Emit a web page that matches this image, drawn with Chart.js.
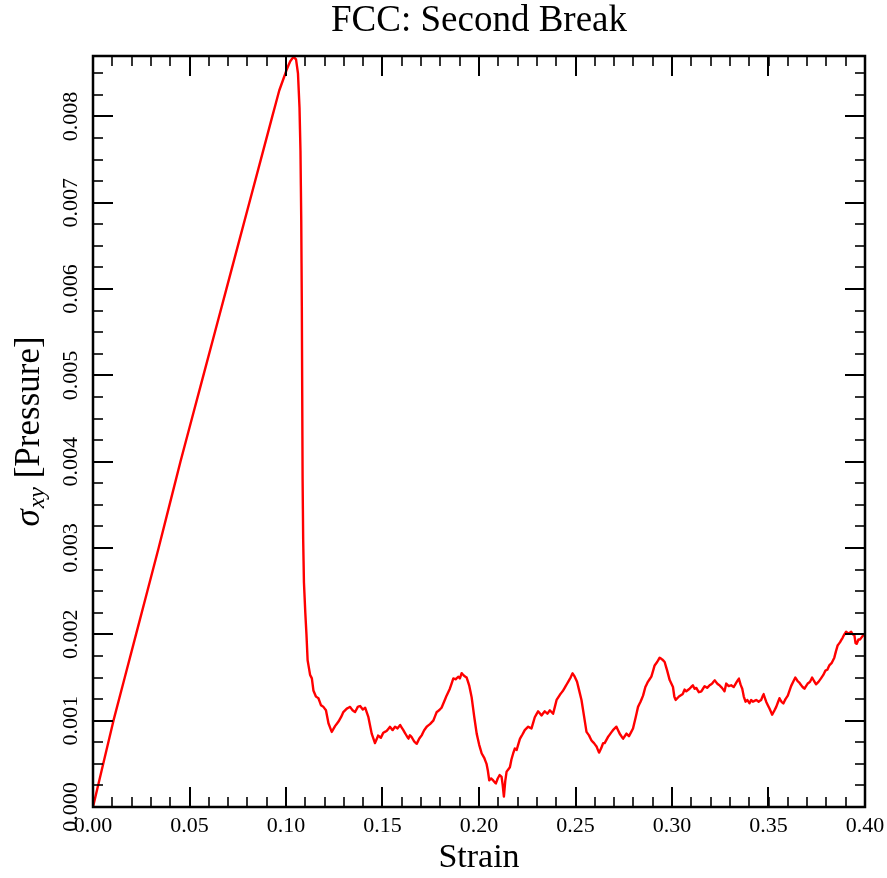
<!DOCTYPE html>
<html>
<head>
<meta charset="utf-8">
<script src="https://cdn.jsdelivr.net/npm/chart.js@4/dist/chart.umd.min.js"></script>
<style>
  html, body { margin: 0; padding: 0; background: #fff; }
  canvas { display: block; }
</style>
</head>
<body>
<canvas id="c" width="887" height="878"></canvas>
<script>
// ---------- data ----------
const strain = [
  0, 0.0106, 0.0223, 0.034, 0.0453, 0.0572, 0.0691, 0.081, 0.0929, 0.0965,
  0.1005, 0.1022, 0.1039, 0.1052, 0.1062, 0.107, 0.1075, 0.1079, 0.1082, 0.1084,
  0.1086, 0.1089, 0.1093, 0.11, 0.1106, 0.1112, 0.1125, 0.1134, 0.1142,
  0.1155, 0.1168, 0.1181,
  0.1194, 0.1207, 0.122, 0.1237, 0.1255, 0.1272, 0.1285, 0.1297, 0.1315, 0.1332,
  0.1345, 0.1358, 0.1372, 0.1384, 0.1398, 0.141, 0.1427, 0.1444, 0.1461, 0.1478,
  0.1491, 0.1504, 0.1521, 0.1539, 0.1552, 0.1565, 0.1578, 0.1591, 0.1608, 0.1621,
  0.1634, 0.1642, 0.1651, 0.1664, 0.1677, 0.169, 0.1703, 0.1716, 0.1729, 0.1746,
  0.1763, 0.1781, 0.1793, 0.1806, 0.1819, 0.1832, 0.1849, 0.1867, 0.188, 0.1892,
  0.1901, 0.191, 0.1923, 0.1936, 0.1949, 0.1962, 0.1975, 0.1988, 0.2001, 0.2014,
  0.2027, 0.2039, 0.2046, 0.2053, 0.2063, 0.2073, 0.2087, 0.2097, 0.2107, 0.2117,
  0.2123, 0.2129, 0.2136, 0.2143, 0.216, 0.2168, 0.2177, 0.2186, 0.2195, 0.2212,
  0.2225, 0.2237, 0.2255, 0.2272, 0.2289, 0.2307, 0.2324, 0.2341, 0.2354, 0.2367,
  0.2384, 0.2402, 0.2419, 0.2436, 0.2449, 0.2462, 0.2475, 0.2484, 0.2496, 0.2508,
  0.2531, 0.2557, 0.257, 0.2583, 0.2596, 0.2609, 0.2622, 0.2633, 0.2643, 0.2651,
  0.2668, 0.2681, 0.2694, 0.2712, 0.2729, 0.2746, 0.2764, 0.2777, 0.2798, 0.2811,
  0.2824, 0.2837, 0.285, 0.2862, 0.2875, 0.2893, 0.291, 0.2923, 0.2936, 0.2949,
  0.2962, 0.2975, 0.2988, 0.3005, 0.3012, 0.3019, 0.3036, 0.3056, 0.3065, 0.3074,
  0.3091, 0.3108, 0.3117, 0.3126, 0.3139, 0.3152, 0.3169, 0.3182, 0.3195, 0.3208,
  0.3221, 0.3234, 0.3246, 0.3259, 0.3272, 0.3281, 0.3294, 0.3307, 0.332, 0.3333,
  0.3346, 0.3355, 0.3364, 0.3372, 0.3381, 0.3391, 0.3401, 0.341, 0.3419, 0.3436,
  0.3449, 0.3462, 0.3474, 0.3488, 0.3505, 0.3519, 0.3531, 0.354, 0.3557, 0.3567,
  0.3577, 0.3588, 0.36, 0.3617, 0.3639, 0.365, 0.366, 0.3673, 0.3686, 0.3703,
  0.3715, 0.3726, 0.3736, 0.3746, 0.3759, 0.3772, 0.3784, 0.3795, 0.3805, 0.3815,
  0.3828, 0.3841, 0.3849, 0.3858, 0.3871, 0.3884, 0.3893, 0.3902, 0.3915, 0.3928,
  0.3937, 0.3945, 0.3951, 0.3957, 0.3966, 0.3974, 0.3991, 0.4
];
const stress = [
  0, 0.001, 0.002, 0.003, 0.004, 0.005, 0.006, 0.007, 0.008, 0.0083,
  0.00855, 0.00864, 0.00869, 0.00866, 0.0085, 0.0081, 0.0076, 0.0068, 0.0058, 0.0048,
  0.0038, 0.0031, 0.0026, 0.00225, 0.002, 0.0017, 0.00153, 0.00149, 0.00135,
  0.00128, 0.00126, 0.00118,
  0.00116, 0.00112, 0.00097, 0.00087, 0.00094, 0.00099, 0.00104, 0.0011, 0.00114, 0.00116,
  0.00112, 0.0011, 0.00116, 0.00117, 0.00113, 0.00115, 0.00104, 0.00085, 0.00074, 0.00083,
  0.0008, 0.00086, 0.00088, 0.00093, 0.00089, 0.00093, 0.00091, 0.00095, 0.00089, 0.00084,
  0.00079, 0.00083, 0.00081, 0.00076, 0.00073, 0.00079, 0.00083, 0.00089, 0.00093, 0.00096,
  0.001, 0.0011, 0.00112, 0.00115, 0.00122, 0.00129, 0.00137, 0.00149, 0.00148, 0.00151,
  0.00149, 0.00155, 0.00152, 0.0015, 0.00141, 0.00127, 0.00105, 0.00085, 0.00072, 0.00062,
  0.00057, 0.0005, 0.00042, 0.00031, 0.00033, 0.00031, 0.00027, 0.00033, 0.00037, 0.00035,
  0.00025, 0.00012, 0.0003, 0.00041, 0.00046, 0.00055, 0.00062, 0.00068, 0.00066, 0.00079,
  0.00084, 0.00089, 0.00093, 0.00091, 0.00104, 0.00111, 0.00106, 0.00111, 0.00108, 0.00112,
  0.00108, 0.00124, 0.0013, 0.00135, 0.0014, 0.00145, 0.0015, 0.00155, 0.00151, 0.00145,
  0.00124, 0.00087, 0.00083, 0.00077, 0.00074, 0.0007, 0.00063, 0.00068, 0.00074, 0.00074,
  0.00081, 0.00085, 0.00089, 0.00093, 0.00085, 0.00079, 0.00085, 0.00082, 0.00091, 0.00103,
  0.00116, 0.00122, 0.00129, 0.00139, 0.00145, 0.00151, 0.00164, 0.00168, 0.00173, 0.00171,
  0.00168, 0.00158, 0.00147, 0.00139, 0.00128, 0.00124, 0.00128, 0.00131, 0.00136, 0.00134,
  0.00137, 0.00141, 0.00137, 0.00138, 0.00133, 0.00134, 0.0014, 0.00138, 0.00141, 0.00143,
  0.00147, 0.00143, 0.00141, 0.00138, 0.00134, 0.00143, 0.0014, 0.00141, 0.00139, 0.00144,
  0.00149, 0.00142, 0.00137, 0.00128, 0.00122, 0.00124, 0.0012, 0.00124, 0.00122, 0.00124,
  0.00122, 0.00124, 0.00131, 0.00122, 0.00114, 0.00107, 0.00112, 0.00116, 0.00126, 0.00122,
  0.0012, 0.00125, 0.00129, 0.0014, 0.0015, 0.00146, 0.00144, 0.0014, 0.00137, 0.00143,
  0.00145, 0.0015, 0.00146, 0.00142, 0.00145, 0.00149, 0.00153, 0.00158, 0.00159, 0.00164,
  0.00167, 0.00173, 0.0018, 0.00187, 0.00191, 0.00196, 0.002, 0.00203, 0.00201, 0.00203,
  0.002, 0.00199, 0.0019, 0.00189, 0.00194, 0.00194, 0.00199, 0.002
];
const xTicks = [0, 0.05, 0.10, 0.15, 0.20, 0.25, 0.30, 0.35, 0.40];
const xTickLabels = ['0.00', '0.05', '0.10', '0.15', '0.20', '0.25', '0.30', '0.35', '0.40'];
const yTicks = [0, 0.001, 0.002, 0.003, 0.004, 0.005, 0.006, 0.007, 0.008];
const yTickLabels = ['0.000', '0.001', '0.002', '0.003', '0.004', '0.005', '0.006', '0.007', '0.008'];
const xRange = [0, 0.4];
const yRange = [0, 0.0087];
const xMinorStep = 0.01;
const yMinorStep = 0.00025;

const SERIF = "'Liberation Serif', 'Times New Roman', serif";
Chart.defaults.color = '#000';

// ---------- decoration plugin: frame, inward ticks, y labels, y title ----------
const decor = {
  id: 'decor',
  afterDraw(chart) {
    const { ctx, chartArea: a, scales: { x, y } } = chart;
    ctx.save();
    ctx.strokeStyle = '#000';
    ctx.lineCap = 'butt';
    const seg = (x1, y1, x2, y2) => { ctx.beginPath(); ctx.moveTo(x1, y1); ctx.lineTo(x2, y2); ctx.stroke(); };

    // minor ticks
    ctx.lineWidth = 1.6;
    for (let i = 0; i * xMinorStep <= xRange[1] + 1e-12; i++) {
      const px = Math.round(x.getPixelForValue(i * xMinorStep));
      seg(px, a.bottom, px, a.bottom - 10);
      seg(px, a.top, px, a.top + 10);
    }
    for (let i = 0; i * yMinorStep <= yRange[1] + 1e-12; i++) {
      const py = Math.round(y.getPixelForValue(i * yMinorStep));
      seg(a.left, py, a.left + 10, py);
      seg(a.right, py, a.right - 10, py);
    }
    // major ticks
    ctx.lineWidth = 2;
    xTicks.forEach(v => {
      const px = Math.round(x.getPixelForValue(v));
      seg(px, a.bottom, px, a.bottom - 20);
      seg(px, a.top, px, a.top + 20);
    });
    yTicks.forEach(v => {
      const py = Math.round(y.getPixelForValue(v));
      seg(a.left, py, a.left + 20, py);
      seg(a.right, py, a.right - 20, py);
    });
    // frame
    ctx.lineWidth = 2.5;
    ctx.strokeRect(a.left, a.top, a.right - a.left, a.bottom - a.top);

    // y tick labels (rotated)
    ctx.fillStyle = '#000';
    ctx.font = `22px ${SERIF}`;
    ctx.textAlign = 'center';
    ctx.textBaseline = 'alphabetic';
    yTicks.forEach((v, i) => {
      const py = y.getPixelForValue(v);
      ctx.save();
      ctx.translate(a.left - 16, py);
      ctx.rotate(-Math.PI / 2);
      ctx.fillText(yTickLabels[i], 0, 0);
      ctx.restore();
    });

    // y axis title: sigma_xy [Pressure]
    const fBig = `italic 35px ${SERIF}`;
    const fSub = `italic 24px ${SERIF}`;
    const fReg = `35px ${SERIF}`;
    const t1 = 'σ', t2 = 'xy', t3 = ' [Pressure]';
    ctx.font = fBig; const w1 = ctx.measureText(t1).width;
    ctx.font = fSub; const w2 = ctx.measureText(t2).width;
    ctx.font = fReg; const w3 = ctx.measureText(t3).width;
    const W = w1 + 1 + w2 + w3;
    const cy = (a.top + a.bottom) / 2;
    ctx.save();
    ctx.translate(39, cy);
    ctx.rotate(-Math.PI / 2);
    ctx.textAlign = 'left';
    let x0 = -W / 2;
    ctx.font = fBig; ctx.fillText(t1, x0, 0); x0 += w1 + 1;
    ctx.font = fSub; ctx.fillText(t2, x0, 5); x0 += w2;
    ctx.font = fReg; ctx.fillText(t3, x0, 0);
    ctx.restore();

    ctx.restore();
  }
};

const points = strain.map((s, i) => ({ x: s, y: stress[i] }));

new Chart(document.getElementById('c'), {
  type: 'line',
  data: {
    datasets: [{
      data: points,
      borderColor: '#ff0000',
      borderWidth: 2.4,
      borderJoinStyle: 'round',
      borderCapStyle: 'round',
      pointRadius: 0,
      tension: 0.0001,
      capBezierPoints: false,
      fill: false
    }]
  },
  options: {
    responsive: false,
    animation: false,
    devicePixelRatio: 1,
    layout: { padding: { left: 0, right: 22, top: 0, bottom: 0 } },
    plugins: {
      legend: { display: false },
      tooltip: { enabled: false },
      title: {
        display: true,
        fullSize: false,
        text: 'FCC: Second Break',
        color: '#000',
        font: { family: SERIF, size: 37, weight: 'normal', lineHeight: 1.1 },
        padding: { top: 0.65, bottom: 14.65 }
      }
    },
    scales: {
      x: {
        type: 'linear',
        min: xRange[0],
        max: xRange[1],
        grid: { display: false, drawTicks: false },
        border: { display: false },
        afterBuildTicks: s => { s.ticks = xTicks.map(v => ({ value: v })); },
        afterFit: s => { s.height = 71; s.paddingLeft = 0; s.paddingRight = 0; },
        ticks: {
          autoSkip: false,
          maxRotation: 0,
          minRotation: 0,
          padding: 6,
          color: '#000',
          font: { family: SERIF, size: 22 },
          callback: (v, i) => xTickLabels[i]
        },
        title: {
          display: true,
          text: 'Strain',
          color: '#000',
          font: { family: SERIF, size: 34 },
          padding: { top: 0, bottom: 0 }
        }
      },
      y: {
        type: 'linear',
        min: yRange[0],
        max: yRange[1],
        grid: { display: false, drawTicks: false },
        border: { display: false },
        afterBuildTicks: s => { s.ticks = yTicks.map(v => ({ value: v })); },
        afterFit: s => { s.width = 93; s.paddingTop = 0; s.paddingBottom = 0; },
        ticks: { display: false }
      }
    }
  },
  plugins: [decor]
});
</script>
</body>
</html>
